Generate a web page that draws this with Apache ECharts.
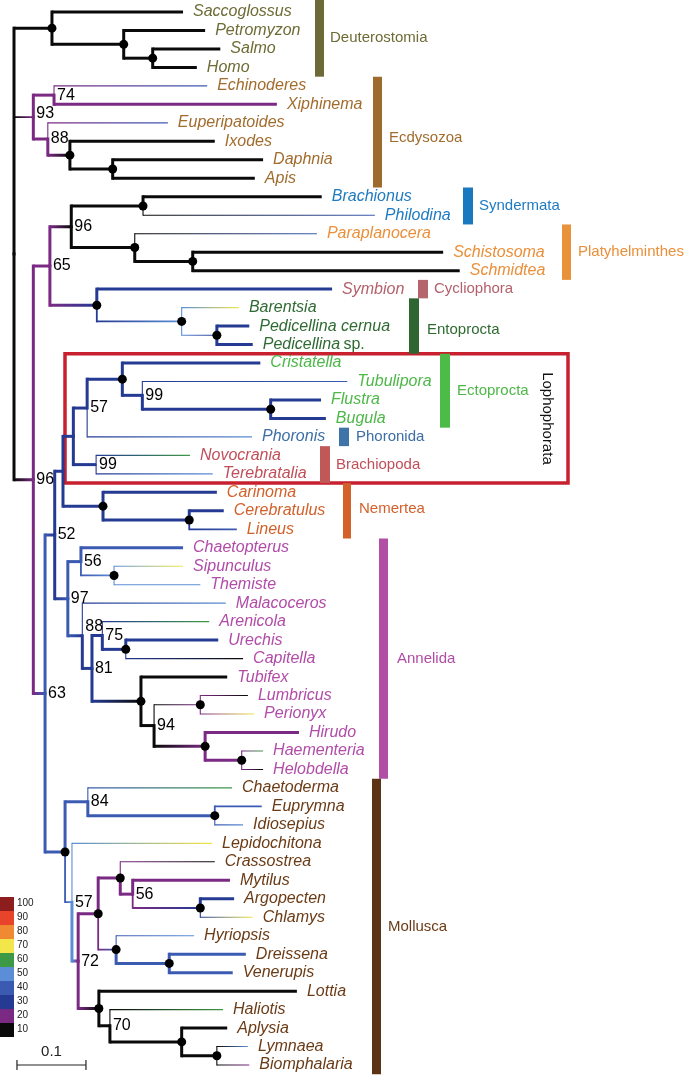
<!DOCTYPE html>
<html><head><meta charset="utf-8">
<script src="https://cdn.jsdelivr.net/npm/echarts@6/dist/echarts.min.js"></script>
<style>html,body{margin:0;padding:0;background:#fff}#c{width:685px;height:1076px}</style>
</head><body><div id="c"></div>
<script>
// ---------------- DATA ----------------
const taxa = ['Saccoglossus','Petromyzon','Salmo','Homo','Echinoderes','Xiphinema','Euperipatoides','Ixodes','Daphnia','Apis',
 'Brachionus','Philodina','Paraplanocera','Schistosoma','Schmidtea','Symbion','Barentsia','Pedicellina cernua','Pedicellina sp.','Cristatella',
 'Tubulipora','Flustra','Bugula','Phoronis','Novocrania','Terebratalia','Carinoma','Cerebratulus','Lineus','Chaetopterus',
 'Sipunculus','Themiste','Malacoceros','Arenicola','Urechis','Capitella','Tubifex','Lumbricus','Perionyx','Hirudo',
 'Haementeria','Helobdella','Chaetoderma','Euprymna','Idiosepius','Lepidochitona','Crassostrea','Mytilus','Argopecten','Chlamys',
 'Hyriopsis','Dreissena','Venerupis','Lottia','Haliotis','Aplysia','Lymnaea','Biomphalaria'];
const taxonParent = ['Deu','Pet','Sal','Sal','N74','N74','N88e','Ixn','DAn','DAn',
 'Syn','Syn','Pla','Sch','Sch','SE','Ent','Ped','Ped','Ect',
 'N99','FB','FB','N57','Bra','Bra','Nem','CL','CL','N56',
 'ST','ST','N88a','N75','UC','UC','Cli','LP','LP','Lee',
 'HH','HH','N84','EI','EI','N57m','Pte','N56m','AC','AC',
 'Het','DV','DV','Gas','N70','AL','LB','LB'];
// distance from root (substitutions/site)
const taxonDepth = [0.245,0.277,0.299,0.265,0.280,0.381,0.223,0.291,0.361,0.349,
 0.446,0.523,0.439,0.622,0.646,0.461,0.326,0.341,0.346,0.357,
 0.483,0.445,0.452,0.345,0.255,0.288,0.294,0.304,0.323,0.245,
 0.245,0.270,0.307,0.283,0.296,0.332,0.309,0.339,0.348,0.413,
 0.361,0.361,0.316,0.359,0.332,0.287,0.291,0.313,0.319,0.346,
 0.261,0.336,0.317,0.410,0.303,0.309,0.339,0.341];
// colour-scale value of each terminal branch (10..100)
const taxonValue = [10,10,10,10,40,20,40,10,10,10,
 10,40,40,10,10,30,70,30,30,30,
 40,30,30,50,60,50,30,30,40,40,
 70,50,50,60,30,10,10,10,70,20,
 60,10,60,40,50,70,10,20,30,70,
 50,40,40,10,60,10,50,20];
// branch weight class: 1 thin, 2 medium, 3 thick
const taxonWeight = [3,3,3,3,1,3,1,3,3,3,
 3,1,1,3,3,3,1,3,3,3,
 1,3,3,1,1,1,3,3,2,3,
 1,1,1,1,3,1,3,1,1,3,
 1,1,1,2,1,1,1,3,3,1,
 1,3,3,3,1,3,1,1];
// internal nodes: [id, parent, depth, value, weight, fullSupportDot, bootstrap]
const nodes = [
 ['R',null,0,10,3,0,null],
 ['Deu','R',0.055,10,3,1,null],
 ['Pet','Deu',0.159,10,3,1,null],
 ['Sal','Pet',0.201,10,3,1,null],
 ['Ecd','R',0.028,20,2,0,93],
 ['N74','Ecd',0.058,20,3,0,74],
 ['N88e','Ecd',0.049,20,3,0,88],
 ['Ixn','N88e',0.081,10,3,1,null],
 ['DAn','Ixn',0.143,10,3,1,null],
 ['N96','R',0.028,20,3,0,96],
 ['N65','N96',0.052,20,3,0,65],
 ['N96b','N65',0.083,10,3,0,96],
 ['Syn','N96b',0.187,10,3,1,null],
 ['Pla','N96b',0.175,10,3,1,null],
 ['Sch','Pla',0.259,10,3,1,null],
 ['SE','N65',0.120,30,3,1,null],
 ['Ent','SE',0.243,50,2,1,null],
 ['Ped','Ent',0.294,30,1,1,null],
 ['N63','N96',0.045,40,3,0,63],
 ['N52','N63',0.059,30,3,0,52],
 ['LN','N52',0.071,30,3,0,null],
 ['Lop','LN',0.086,30,3,0,null],
 ['N57','Lop',0.106,30,3,0,57],
 ['Ect','N57',0.157,30,3,1,null],
 ['N99','Ect',0.186,30,3,0,99],
 ['FB','N99',0.372,30,3,1,null],
 ['Bra','Lop',0.119,30,3,0,99],
 ['Nem','LN',0.129,30,3,1,null],
 ['CL','Nem',0.254,30,3,1,null],
 ['N97','N52',0.078,40,3,0,97],
 ['N56','N97',0.097,40,3,0,56],
 ['ST','N56',0.145,50,2,1,null],
 ['N88a','N97',0.099,30,3,0,88],
 ['N81','N88a',0.113,30,3,0,81],
 ['N75','N81',0.128,30,3,0,75],
 ['UC','N75',0.162,30,3,1,null],
 ['Cli','N81',0.184,10,3,1,null],
 ['N94','Cli',0.203,10,3,0,94],
 ['LP','N94',0.270,20,1,1,null],
 ['Lee','N94',0.277,20,3,1,null],
 ['HH','Lee',0.330,20,3,1,null],
 ['Mol','N63',0.074,40,3,1,null],
 ['N84','Mol',0.107,40,3,0,84],
 ['EI','N84',0.291,40,3,1,null],
 ['N57m','Mol',0.084,50,2,0,57],
 ['N72','N57m',0.093,20,3,0,72],
 ['Biv','N72',0.122,20,3,1,null],
 ['Pte','Biv',0.154,20,3,1,null],
 ['N56m','Pte',0.172,20,3,0,56],
 ['AC','N56m',0.270,30,2,1,null],
 ['Het','Biv',0.148,40,2,1,null],
 ['DV','Het',0.225,40,3,1,null],
 ['Gas','N72',0.123,10,3,1,null],
 ['N70','Gas',0.139,10,3,0,70],
 ['AL','N70',0.243,10,3,1,null],
 ['LB','AL',0.294,10,3,1,null]
];
const clades = ['Deuterostomia','Ecdysozoa','Syndermata','Platyhelminthes','Cycliophora','Entoprocta','Ectoprocta','Phoronida','Brachiopoda','Nemertea','Annelida','Mollusca'];
const cladeFirst = [0,4,10,12,15,16,19,23,24,26,29,42];
const cladeLast  = [3,9,11,14,15,18,22,23,25,28,41,57];
const lophophorata = {name:'Lophophorata', first:19, last:25};
const scaleValues = [100,90,80,70,60,50,40,30,20,10];
const scaleBar = {start:0.0043, length:0.1, label:'0.1'};

// ---------------- STYLE / LAYOUT ----------------
const scaleColors = ['#8e1d1d','#e8432b','#ef8a32','#f2e64a','#3c9a46','#5b8ed6','#3b5bb2','#243a93','#7b2a84','#0a0a0a'];
const weightPx = {1:1.1, 2:1.8, 3:3};
const cladeColor = ['#6c6a36','#9e6b2d','#1a78bf','#e8923c','#b5656c','#2e6531','#4cbb47','#3f74a8','#c05858','#d2622a','#b04fa3','#5c3415'];
const labelColor = ['#6e6b35','#a26c2e','#1f7bc1','#ea8f3a','#b4606c','#2f6a33','#4db848','#3c6ea5','#c04f5a','#d2602b','#b14ca8','#6b3b16'];
// clade bar layout in pixels: [barLeft, barWidth, labelLeft, labelDy, extendTop]
const cladeLayout = [[315,9,330,0,3],[373,9,389,6,0],[463,10,479,0,0],[562,9,578,0,0],[418,10,434,0,0],[409,10,427,4,0],
 [440,10,457,0,0],[339,10,356,0,0],[320,10,336,0,0],[343,8,359,-2,0],[379,9,397,0,0],[372,9,388,0,0]];
const supportDy = {N88a:-9, Ecd:-3};
const FONT = "'Liberation Sans', Arial, Helvetica, sans-serif";
const X_MIN = -0.0203, X_MAX = 0.9725, Y_MIN = -0.6496, Y_MAX = 57.594;

function colorOf(v){ return scaleColors[scaleValues.indexOf(v)]; }

// ---------------- TREE ----------------
const info = {};
nodes.forEach(n => info[n[0]] = {id:n[0], parent:n[1], depth:n[2], value:n[3], weight:n[4], dot:n[5], support:n[6], children:[]});
taxa.forEach((t,i) => { info['t'+i] = {id:'t'+i, parent:taxonParent[i], depth:taxonDepth[i], value:taxonValue[i], weight:taxonWeight[i], y:i, children:[], leaf:true}; });
Object.values(info).forEach(n => { if (n.parent) info[n.parent].children.push(n); });
function yOf(n){ if (n.y !== undefined) return n.y; const ys = n.children.map(yOf); n.y = (Math.min(...ys)+Math.max(...ys))/2; return n.y; }
yOf(info.R);

const edgeData = [];
Object.values(info).forEach(n => {
  if (!n.parent) return;
  const p = info[n.parent];
  edgeData.push([p.depth, p.y, n.depth, n.y, p.value, n.value, n.weight]);
});
edgeData.sort((a,b) => b[6]-a[6]);
const dotData = nodes.filter(n => n[5]).map(n => [info[n[0]].depth, info[n[0]].y]);
const supportData = nodes.filter(n => n[6] != null).map(n => [info[n[0]].depth, info[n[0]].y, n[6], supportDy[n[0]] || 0]);
const taxonData = taxa.map((t,i) => [taxonDepth[i], i, i]);
const cladeData = clades.map((c,i) => [cladeFirst[i], cladeLast[i], i]);
function cladeOfTaxon(i){ for (let k=0;k<clades.length;k++) if (i>=cladeFirst[k] && i<=cladeLast[k]) return k; return 0; }

// ---------------- CHART ----------------
const chart = echarts.init(document.getElementById('c'), null, {renderer:'canvas', width:685, height:1076});
chart.setOption({
  animation:false,
  backgroundColor:'#ffffff',
  grid:{left:0, right:0, top:0, bottom:0},
  xAxis:{type:'value', min:X_MIN, max:X_MAX, show:false},
  yAxis:{type:'value', min:Y_MIN, max:Y_MAX, inverse:true, show:false},
  series:[
    { // clade bars, labels, lophophorata box
      type:'custom', coordinateSystem:'cartesian2d', silent:true, z:1, data:cladeData,
      renderItem(params, api){
        const k = api.value(2);
        const L = cladeLayout[k];
        const y0 = api.coord([0, api.value(0)-0.5])[1] - L[4];
        const y1 = api.coord([0, api.value(1)+0.5])[1];
        const ch = [
          {type:'rect', shape:{x:L[0], y:y0, width:L[1], height:y1-y0}, style:{fill:cladeColor[k]}},
          {type:'text', style:{x:L[2], y:(y0+y1)/2+L[3], text:clades[k], fill:labelColor[k], font:'15px '+FONT, align:'left', verticalAlign:'middle'}}
        ];
        if (k === 0) {
          const b0 = api.coord([0, lophophorata.first-0.5])[1];
          const b1 = api.coord([0, lophophorata.last+0.5])[1];
          ch.push({type:'rect', shape:{x:65, y:b0, width:503, height:b1-b0}, style:{fill:'none', stroke:'#c8202f', lineWidth:3.5}});
          ch.push({type:'text', x:547, y:(b0+b1)/2, rotation:-Math.PI/2, style:{x:0, y:0, text:lophophorata.name, fill:'#111', font:'15px '+FONT, align:'center', verticalAlign:'middle'}});
        }
        return {type:'group', children:ch};
      }
    },
    { // branches
      type:'custom', coordinateSystem:'cartesian2d', silent:true, z:2, data:edgeData,
      renderItem(params, api){
        const p0 = api.coord([api.value(0), api.value(1)]);
        const p1 = api.coord([api.value(2), api.value(3)]);
        const c0 = colorOf(api.value(4)), c1 = colorOf(api.value(5));
        const w = weightPx[api.value(6)];
        const stroke = c0 === c1 ? c1 : {type:'linear', x:p0[0], y:0, x2:p1[0], y2:0, global:true,
          colorStops:[{offset:0, color:c0},{offset:1, color:c1}]};
        return {type:'group', children:[
          {type:'line', shape:{x1:p0[0], y1:p0[1], x2:p0[0], y2:p1[1]}, style:{stroke:c0, lineWidth:w, lineCap:'square'}},
          {type:'line', shape:{x1:p0[0], y1:p1[1], x2:p1[0], y2:p1[1]}, style:{stroke:stroke, lineWidth:w, lineCap:'butt'}}
        ]};
      }
    },
    { // fully supported nodes
      type:'scatter', silent:true, z:3, data:dotData, symbol:'circle', symbolSize:9,
      itemStyle:{color:'#000', opacity:1}
    },
    { // bootstrap values
      type:'custom', coordinateSystem:'cartesian2d', silent:true, z:4, data:supportData,
      renderItem(params, api){
        const p = api.coord([api.value(0), api.value(1)]);
        return {type:'text', style:{x:p[0]+3, y:p[1]+api.value(3), text:String(api.value(2)), fill:'#000', font:'16px '+FONT, align:'left', verticalAlign:'middle'}};
      }
    },
    { // taxon names
      type:'custom', coordinateSystem:'cartesian2d', silent:true, z:4, data:taxonData,
      renderItem(params, api){
        const i = api.value(2);
        const p = api.coord([api.value(0), api.value(1)]);
        const col = labelColor[cladeOfTaxon(i)];
        const name = taxa[i];
        const m = name.match(/^(.*) (sp\.)$/);
        if (m) {
          return {type:'text', style:{x:p[0]+10, y:p[1], text:'{i|'+m[1]+'} {n|'+m[2]+'}', align:'left', verticalAlign:'middle',
            rich:{i:{fontStyle:'italic', fontSize:16, fontFamily:FONT, fill:col}, n:{fontSize:16, fontFamily:FONT, fill:col}}}};
        }
        return {type:'text', style:{x:p[0]+10, y:p[1], text:name, fill:col, font:'italic 16px '+FONT, align:'left', verticalAlign:'middle'}};
      }
    }
  ]
});

// legend (colour scale) and scale bar
const g = [];
scaleValues.forEach((v,k) => {
  g.push({type:'rect', left:0, top:897+k*14, shape:{width:14, height:14}, style:{fill:scaleColors[k]}, silent:true});
  g.push({type:'text', left:17, top:897+k*14+1.5, style:{text:String(v), fill:'#222', font:'10px '+FONT}, silent:true});
});
const sx0 = chart.convertToPixel({gridIndex:0}, [scaleBar.start, 0])[0];
const sx1 = chart.convertToPixel({gridIndex:0}, [scaleBar.start+scaleBar.length, 0])[0];
const sy = 1065;
g.push({type:'line', shape:{x1:sx0, y1:sy, x2:sx1, y2:sy}, style:{stroke:'#222', lineWidth:1.2}, silent:true});
g.push({type:'line', shape:{x1:sx0, y1:sy-5, x2:sx0, y2:sy+5}, style:{stroke:'#222', lineWidth:1.2}, silent:true});
g.push({type:'line', shape:{x1:sx1, y1:sy-5, x2:sx1, y2:sy+5}, style:{stroke:'#222', lineWidth:1.2}, silent:true});
g.push({type:'text', x:(sx0+sx1)/2, y:sy-13, style:{text:scaleBar.label, fill:'#222', font:'15px '+FONT, align:'center', verticalAlign:'middle'}, silent:true});
chart.setOption({graphic:g});
</script>
</body></html>
